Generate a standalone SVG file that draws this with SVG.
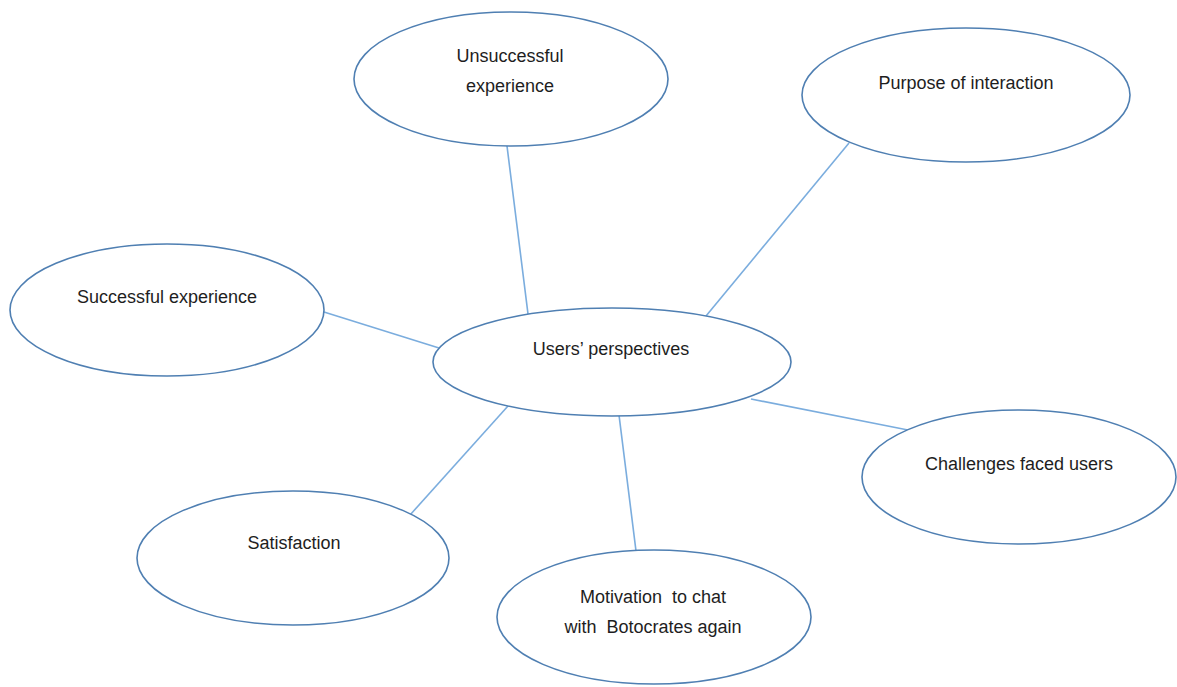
<svg xmlns="http://www.w3.org/2000/svg" width="1177" height="687" viewBox="0 0 1177 687">
  <style>
    .node ellipse { fill: #ffffff; stroke: #4f7fb2; stroke-width: 1.6; }
    .node text { font-family: "Liberation Sans", Arial, sans-serif; font-size: 18px; fill: #1e1e1e; text-anchor: middle; white-space: pre; }
    #connectors line { stroke: #7badde; stroke-width: 1.6; }
  </style>
  <rect width="1177" height="687" fill="#ffffff"/>
  <g id="connectors">
    <line x1="507" y1="146" x2="528" y2="314"/>
    <line x1="849" y1="143" x2="706" y2="316"/>
    <line x1="324" y1="312" x2="439" y2="348"/>
    <line x1="751" y1="399" x2="908" y2="430"/>
    <line x1="508" y1="406" x2="410" y2="515"/>
    <line x1="619" y1="415" x2="636" y2="551"/>
  </g>
  <g id="node-unsuccessful" class="node">
    <ellipse cx="511" cy="79" rx="157" ry="67"/>
    <text x="510" y="62">Unsuccessful</text>
    <text x="510" y="92">experience</text>
  </g>
  <g id="node-purpose" class="node">
    <ellipse cx="966" cy="95" rx="164" ry="67"/>
    <text x="966" y="89">Purpose of interaction</text>
  </g>
  <g id="node-successful" class="node">
    <ellipse cx="167" cy="310" rx="157" ry="66"/>
    <text x="167" y="303">Successful experience</text>
  </g>
  <g id="node-users" class="node">
    <ellipse cx="612" cy="362" rx="179" ry="54"/>
    <text x="611" y="355">Users’ perspectives</text>
  </g>
  <g id="node-challenges" class="node">
    <ellipse cx="1019" cy="477" rx="157" ry="67"/>
    <text x="1019" y="470">Challenges faced users</text>
  </g>
  <g id="node-satisfaction" class="node">
    <ellipse cx="293" cy="558" rx="156" ry="67"/>
    <text x="294" y="549">Satisfaction</text>
  </g>
  <g id="node-motivation" class="node">
    <ellipse cx="654" cy="617" rx="157" ry="67"/>
    <text x="653" y="603">Motivation  to chat</text>
    <text x="653" y="633">with  Botocrates again</text>
  </g>
</svg>
